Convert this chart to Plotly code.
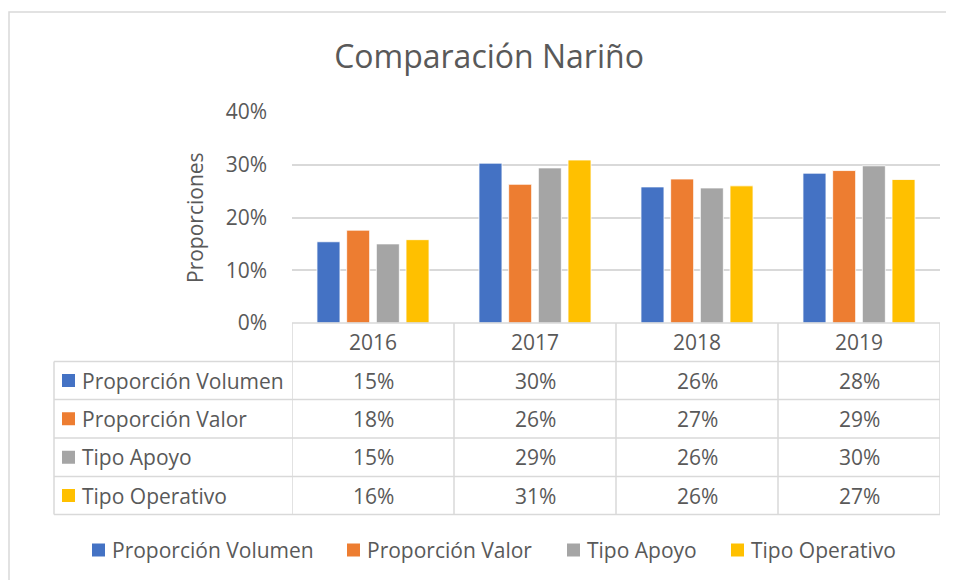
import plotly.graph_objects as go

# ---- data ----
years = ["2016", "2017", "2018", "2019"]
series_names = ["Proporción Volumen", "Proporción Valor", "Tipo Apoyo", "Tipo Operativo"]
prop_volumen = [0.154, 0.303, 0.258, 0.284]
prop_valor = [0.176, 0.263, 0.273, 0.289]
tipo_apoyo = [0.150, 0.294, 0.256, 0.298]
tipo_operativo = [0.158, 0.309, 0.260, 0.272]
y_ticks = [0, 0.1, 0.2, 0.3, 0.4]
colors = ["#4472C4", "#ED7D31", "#A5A5A5", "#FFC000"]
series_values = [prop_volumen, prop_valor, tipo_apoyo, tipo_operativo]

FONT = "Open Sans"
TXT = "#595959"
GRID = "#D9D9D9"
FS = 21

W, H = 954, 580
OFF = 8  # page body margin offset
# target pixel positions of the plot area in the screenshot
PL, PR, PT, PB = 292, 940, 112, 323
ML, MT = PL - OFF, PT - OFF
MR = W - (PR - OFF)
MB = H - (PB - OFF)
PW = W - ML - MR
PH = H - MT - MB


def px(x):
    return (x - PL) / PW


def py(y):
    return (PB - y) / PH


fig = go.Figure()
for name, vals, col in zip(series_names, series_values, colors):
    fig.add_trace(go.Bar(
        x=years, y=vals, name=name,
        marker=dict(color=col, line=dict(color="white", width=0.8)),
    ))

shapes = []
annotations = []

# outer chart frame
shapes.append(dict(type="rect", xref="paper", yref="paper",
                   x0=px(9), x1=px(1000), y0=py(12), y1=py(620),
                   line=dict(color=GRID, width=1.5), layer="below"))

# data table rows
row_lines = [323, 361.5, 399.5, 438, 476.5, 514.5]
tbl_left = 54
shapes.append(dict(type="line", xref="paper", yref="paper", x0=0, x1=1,
                   y0=py(row_lines[0]), y1=py(row_lines[0]), line=dict(color=GRID, width=1.5)))
for yy in row_lines[1:]:
    shapes.append(dict(type="line", xref="paper", yref="paper", x0=px(tbl_left), x1=1,
                       y0=py(yy), y1=py(yy), line=dict(color=GRID, width=1.5)))
for i in range(len(years) + 1):
    shapes.append(dict(type="line", xref="x", yref="paper", x0=i - 0.5, x1=i - 0.5,
                       y0=py(row_lines[0]), y1=py(row_lines[-1]), line=dict(color=GRID, width=1.5)))
shapes.append(dict(type="line", xref="paper", yref="paper", x0=px(tbl_left), x1=px(tbl_left),
                   y0=py(row_lines[1]), y1=py(row_lines[-1]), line=dict(color=GRID, width=1.5)))

# header years
for i, yr in enumerate(years):
    annotations.append(dict(x=i, xref="x", y=py((row_lines[0] + row_lines[1]) / 2), yref="paper",
                            text=yr, showarrow=False, xanchor="center", yanchor="middle",
                            font=dict(family=FONT, size=FS, color=TXT)))

# table rows
for r, (name, vals, col) in enumerate(zip(series_names, series_values, colors)):
    yc = (row_lines[r + 1] + row_lines[r + 2]) / 2
    shapes.append(dict(type="rect", xref="paper", yref="paper",
                       x0=px(62), x1=px(75), y0=py(yc - 6.5), y1=py(yc + 6.5),
                       fillcolor=col, line=dict(width=0)))
    annotations.append(dict(x=px(80), xref="paper", y=py(yc), yref="paper", text=name,
                            showarrow=False, xanchor="left", yanchor="middle",
                            font=dict(family=FONT, size=FS, color=TXT)))
    for i, v in enumerate(vals):
        annotations.append(dict(x=i, xref="x", y=py(yc), yref="paper", text=f"{v:.0%}",
                                showarrow=False, xanchor="center", yanchor="middle",
                                font=dict(family=FONT, size=FS, color=TXT)))

# bottom legend
legend_swatch_x = [92, 347, 567, 731]
legend_y = 550
for name, col, sx in zip(series_names, colors, legend_swatch_x):
    shapes.append(dict(type="rect", xref="paper", yref="paper",
                       x0=px(sx), x1=px(sx + 13), y0=py(legend_y - 6.5), y1=py(legend_y + 6.5),
                       fillcolor=col, line=dict(width=0)))
    annotations.append(dict(x=px(sx + 18), xref="paper", y=py(legend_y), yref="paper", text=name,
                            showarrow=False, xanchor="left", yanchor="middle",
                            font=dict(family=FONT, size=FS, color=TXT)))

# y axis title
annotations.append(dict(x=px(195), xref="paper", y=py(218), yref="paper", text="Proporciones",
                        textangle=-90, showarrow=False, xanchor="center", yanchor="middle",
                        font=dict(family=FONT, size=FS, color=TXT)))

fig.update_layout(
    width=W, height=H,
    margin=dict(l=ML, r=MR, t=MT, b=MB, autoexpand=False),
    paper_bgcolor="white", plot_bgcolor="white",
    title=dict(text="Comparación Nariño", xref="container", x=(489 - OFF) / W, xanchor="center",
               yref="container", y=1 - (57 - OFF) / H, yanchor="middle",
               font=dict(family=FONT, size=32, color=TXT)),
    barmode="group", bargap=0.267, bargroupgap=0.225,
    font=dict(family=FONT, size=FS, color=TXT),
    showlegend=False,
    xaxis=dict(type="category", showticklabels=False, showgrid=False, zeroline=False,
               showline=False, range=[-0.5, len(years) - 0.5]),
    yaxis=dict(range=[0, 0.4], tickvals=y_ticks, tickformat=".0%",
               showgrid=True, gridcolor=GRID, gridwidth=1.5, zeroline=False, showline=False,
               ticks="", ticklabelstandoff=24,
               tickfont=dict(family=FONT, size=FS, color=TXT)),
    shapes=shapes, annotations=annotations,
)

fig.write_html("out.html")
